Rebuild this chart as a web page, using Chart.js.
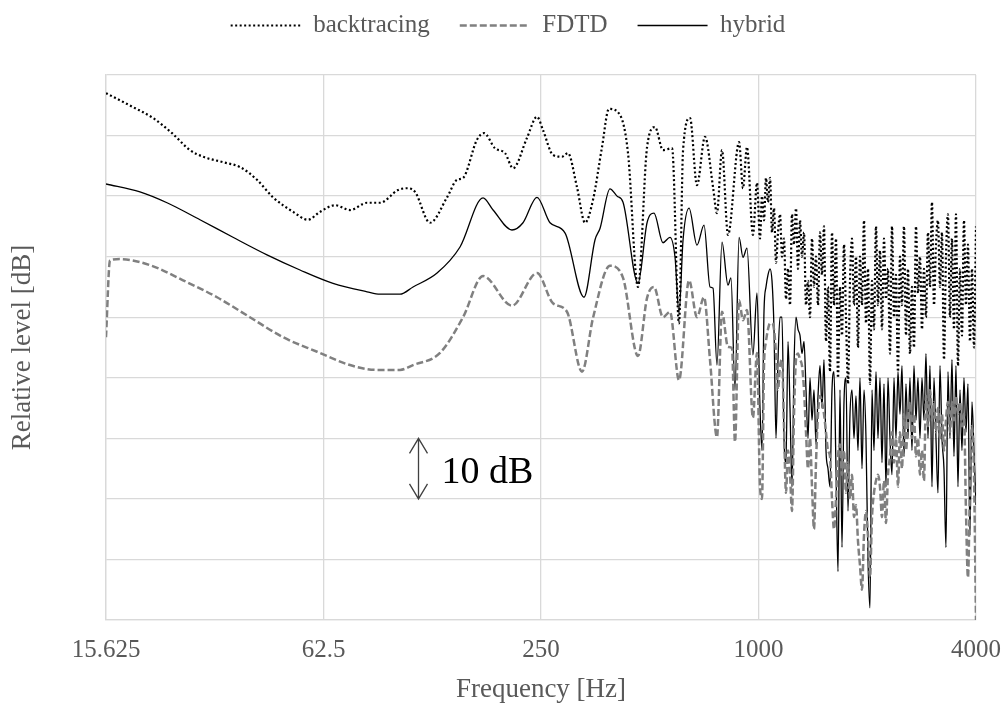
<!DOCTYPE html>
<html>
<head>
<meta charset="utf-8">
<title>Relative level vs frequency</title>
<script src="https://cdn.jsdelivr.net/npm/chart.js@4.4.1/dist/chart.umd.min.js"></script>
<style>
  html, body { margin: 0; padding: 0; background: #fff; }
  #wrap { width: 1008px; height: 709px; }
</style>
</head>
<body>
<div id="wrap"><canvas id="chart" width="1008" height="709"></canvas></div>
<script>
// ticks of the octave axis
const xTickValues = [15.625, 62.5, 250, 1000, 4000];
const xTickLabels = ['15.625', '62.5', '250', '1000', '4000'];

// ---- below ~1 kHz, each curve read at its own turning points ----
// backtracing (dotted)
const backFreq = [15.625, 18.56, 21.08, 23.80, 26.68, 29.0, 32.94, 36.7, 40.9, 45.3, 51.5, 56.6, 61.1, 67.3, 74.0, 82.5, 89.6, 100.5, 106.4, 112.0,
  123.2, 137.4, 146.4, 152.1, 166.2, 173.9, 186.5, 198.8, 209.2, 228.6, 243.7, 253.2, 269.8, 285.7, 296.8, 314.4, 331.0, 348.3, 368.8, 385.5,
  413.6, 435.3, 463.9, 491.5, 517.0, 544.0, 576.5, 602.5, 618.3, 646.3, 675.6, 711.1, 748.4, 767.4, 792.4, 823.2, 883.5, 905.8, 929.2, 965.2,
  990.4];
const backLevel = [87.0, 84.7, 82.9, 80.4, 77.6, 76.5, 75.6, 74.8, 72.7, 69.8, 67.4, 66.1, 67.4, 68.5, 67.7, 68.9, 68.9, 71.0, 71.3, 70.7,
  65.6, 69.8, 72.7, 73.0, 79.3, 80.4, 77.9, 77.1, 74.6, 79.6, 83.1, 80.9, 76.8, 76.5, 77.1, 71.5, 65.6, 69.4, 78.1, 84.4,
  83.4, 77.1, 55.0, 78.1, 81.4, 77.6, 77.9, 49.0, 77.6, 82.9, 71.8, 79.8, 71.5, 67.2, 77.6, 63.6, 78.9, 71.3, 78.1, 63.6,
  72.2];

// FDTD (dashed grey)
const fdtdFreq = [15.625, 16.03, 17.08, 20.68, 25.53, 31.71, 39.1, 48.3, 60.0, 74.0, 87.9, 101.8, 110.6, 131.3, 152.1, 172.8, 207.8, 243.7, 269.8, 295.0,
  324.7, 348.3, 388.0, 421.7, 463.9, 491.5, 513.7, 544.0, 568.8, 602.5, 642.4, 675.6, 706.7, 734.2, 767.4, 792.4, 823.2, 844.6, 860.9, 883.5,
  905.8, 929.2, 965.2, 990.4];
const fdtdLevel = [46.7, 59.4, 59.6, 58.6, 56.1, 53.3, 50.0, 46.7, 44.3, 42.1, 41.3, 41.3, 42.1, 44.1, 50.0, 56.8, 51.9, 57.3, 52.3, 50.9,
  41.0, 49.9, 58.5, 56.5, 43.6, 53.2, 55.0, 50.0, 50.9, 39.6, 56.1, 50.0, 53.3, 42.9, 30.2, 50.9, 45.1, 44.9, 29.4, 52.8,
  49.5, 51.2, 33.4, 44.1];

// hybrid (solid)
const hybFreq = [15.625, 19.4, 23.05, 28.44, 35.1, 43.6, 53.8, 66.4, 82.5, 89.6, 101.8, 110.6, 128.9, 149.2, 172.8, 184.2, 207.8, 222.9, 243.7, 264.8,
  291.5, 328.8, 352.8, 364.3, 388.0, 405.9, 421.7, 463.9, 491.5, 513.7, 544.0, 568.8, 587.4, 602.5, 618.3, 642.4, 675.6, 706.7, 734.2, 748.4,
  767.4, 792.4, 823.2, 839.2, 860.9, 883.5, 905.8, 929.2, 965.2, 990.4];
const hybLevel = [72.0, 70.7, 68.9, 66.1, 63.2, 60.3, 57.8, 55.6, 54.2, 53.8, 53.8, 55.0, 57.3, 61.6, 69.7, 67.7, 64.4, 65.6, 69.8, 65.6,
  63.9, 53.3, 62.8, 64.7, 71.2, 70.0, 69.0, 55.6, 65.6, 67.2, 62.3, 63.2, 59.9, 50.7, 62.8, 68.0, 61.9, 65.2, 55.0, 54.8,
  42.1, 62.4, 55.3, 56.5, 38.0, 63.2, 59.9, 61.4, 43.8, 54.0];

// ---- above 1 kHz the curves are read on one shared frequency list ----
const hfFreq = [1009.6, 1022.6, 1035.7, 1049.0, 1062.4, 1076.1, 1089.9, 1103.9, 1118.0, 1132.4,
  1146.9, 1161.6, 1176.5, 1191.6, 1206.9, 1222.4, 1238.1, 1254.0, 1270.0, 1286.3,
  1302.8, 1319.5, 1336.5, 1353.6, 1371.0, 1388.6, 1406.4, 1424.4, 1442.7, 1461.2,
  1479.9, 1498.9, 1518.1, 1537.6, 1557.3, 1577.3, 1597.5, 1618.0, 1638.8, 1659.8,
  1681.1, 1702.6, 1724.5, 1746.6, 1769.0, 1791.7, 1814.7, 1838.0, 1861.5, 1885.4,
  1909.6, 1934.1, 1958.9, 1984.0, 2009.5, 2035.3, 2061.4, 2087.8, 2114.6, 2141.7,
  2169.2, 2197.0, 2225.2, 2253.7, 2282.6, 2311.9, 2341.6, 2371.6, 2402.0, 2432.8,
  2464.0, 2495.6, 2527.6, 2560.0, 2592.9, 2626.1, 2659.8, 2693.9, 2728.5, 2763.5,
  2798.9, 2834.8, 2871.2, 2908.0, 2945.3, 2983.1, 3021.3, 3060.1, 3099.3, 3139.1,
  3179.3, 3220.1, 3261.4, 3303.2, 3345.6, 3388.5, 3432.0, 3476.0, 3520.6, 3565.7,
  3611.5, 3657.8, 3704.7, 3752.2, 3800.4, 3849.1, 3898.5, 3948.5, 4000];
const backHigh = [63, 70, 66, 73, 69, 73, 64, 68, 59, 64,
  67, 60, 63, 53, 58, 52, 67, 62, 68, 58,
  66, 60, 64, 52, 56, 50, 63, 55, 60, 52,
  64, 57, 65, 46, 55, 41, 64, 52, 63, 40,
  55, 47, 62, 50, 39, 56, 63, 52, 60, 45,
  60, 52, 66, 49, 58, 39, 56, 48, 65, 52,
  61, 48, 63, 53, 58, 44, 65, 50, 57, 41,
  60, 52, 65, 47, 58, 44, 55, 45, 65, 54,
  60, 48, 58, 50, 64, 55, 69, 52, 62, 66,
  55, 64, 43, 60, 67, 50, 63, 48, 67, 42,
  58, 47, 66, 52, 62, 46, 58, 45, 65];
const fdtdHigh = [22, 20, 42, 46, 48, 49, 49, 48, 44, 38,
  42, 43, 32, 21, 28, 24, 18, 34, 43, 44,
  43, 42, 38, 31, 25, 30, 22, 15, 26, 34,
  37, 36, 34, 31, 28, 27, 20, 15, 20, 27,
  29, 24, 28, 21, 26, 20, 24, 17, 19, 13,
  9, 5, 14, 18, 14, 7, 17, 21, 23, 24,
  22, 17, 23, 16, 24, 27, 31, 26, 30, 22,
  31, 25, 34, 28, 33, 36, 30, 34, 27, 30,
  24, 28, 23, 37, 32, 38, 33, 36, 31, 35,
  30, 34, 28, 33, 36, 31, 36, 33, 37, 34,
  36, 32, 34, 18, 7, 22, 32, 24, 0];
const hybHigh = [35, 28, 51, 55, 57, 58, 56, 48, 30, 43,
  50, 50, 30, 26, 46, 35, 22, 42, 50, 48,
  47, 44, 46, 38, 30, 40, 33, 38, 29, 37,
  42, 35, 43, 28, 25, 22, 38, 41, 25, 8,
  38, 12, 36, 40, 18, 34, 38, 30, 37, 28,
  40, 25, 38, 30, 10, 2, 38, 28, 41, 30,
  40, 26, 39, 22, 40, 30, 24, 40, 30, 41,
  34, 42, 27, 39, 30, 40, 28, 42, 33, 40,
  30, 40, 33, 44, 30, 42, 22, 40, 30, 21,
  42, 30, 25, 12, 41, 30, 43, 27, 42, 22,
  38, 28, 40, 31, 39, 14, 36, 28, 19];

// the "10 dB" scale mark
const noteFreq = 114.2;
const noteTop = 30;
const noteBottom = 20;

const SERIF = '"Liberation Serif", "Times New Roman", serif';
const GREY_TEXT = '#595959';
const GRID = '#d9d9d9';

const toPoints = (fs, ls) => fs.map((f, i) => ({ x: f, y: ls[i] }));

// legend gets a fixed height so the plot starts at the right place,
// and is nudged right like the original
const legendBox = {
  id: 'legendBox',
  beforeLayout(chart) {
    const lg = chart.legend;
    if (lg && !lg._patched) {
      const fit = lg.fit;
      lg.fit = function() { fit.call(this); this.height = 92; };
      lg._patched = true;
    }
  },
  afterLayout(chart) {
    chart.legend.left += 20;
    chart.legend.right += 20;
  }
};

// double arrow + "10 dB"
const scaleNote = {
  id: 'scaleNote',
  afterDatasetsDraw(chart) {
    const { ctx, scales: { x, y } } = chart;
    const px = Math.round(x.getPixelForValue(noteFreq)) + 0.5;
    const top = y.getPixelForValue(noteTop);
    const bot = y.getPixelForValue(noteBottom);
    ctx.save();
    ctx.strokeStyle = '#404040';
    ctx.lineWidth = 1.3;
    ctx.beginPath();
    ctx.moveTo(px, top); ctx.lineTo(px, bot);
    ctx.moveTo(px - 9, top + 15); ctx.lineTo(px, top); ctx.lineTo(px + 9, top + 15);
    ctx.moveTo(px - 9, bot - 15); ctx.lineTo(px, bot); ctx.lineTo(px + 9, bot - 15);
    ctx.stroke();
    ctx.fillStyle = '#000';
    ctx.font = '38px ' + SERIF;
    ctx.textBaseline = 'alphabetic';
    ctx.fillText('10 dB', px + 23, bot - 16);
    ctx.restore();
  }
};

new Chart(document.getElementById('chart'), {
  type: 'line',
  data: {
    datasets: [
      {
        label: 'backtracing',
        data: toPoints(backFreq.concat(hfFreq), backLevel.concat(backHigh)),
        borderColor: '#000',
        borderWidth: 2.2,
        borderDash: [2, 2.5],
        pointRadius: 0
      },
      {
        label: 'FDTD',
        data: toPoints(fdtdFreq.concat(hfFreq), fdtdLevel.concat(fdtdHigh)),
        borderColor: '#808080',
        borderWidth: 2.5,
        borderDash: [7, 3],
        pointRadius: 0
      },
      {
        label: 'hybrid',
        data: toPoints(hybFreq.concat(hfFreq), hybLevel.concat(hybHigh)),
        borderColor: '#000',
        borderWidth: 1.3,
        pointRadius: 0
      }
    ]
  },
  options: {
    responsive: false,
    animation: false,
    cubicInterpolationMode: 'monotone',
    layout: { padding: { left: 0, right: 32, top: -17, bottom: 0 } },
    plugins: {
      legend: {
        position: 'top',
        labels: {
          usePointStyle: true,
          pointStyleWidth: 70,
          padding: 30,
          color: GREY_TEXT,
          font: { family: SERIF, size: 25 },
          generateLabels(chart) {
            const items = Chart.defaults.plugins.legend.labels.generateLabels(chart);
            items.forEach((it) => {
              const ds = chart.data.datasets[it.datasetIndex];
              it.pointStyle = 'line';
              it.strokeStyle = ds.borderColor;
              it.lineWidth = ds.borderWidth;
              it.lineDash = ds.borderDash || [];
            });
            return items;
          }
        }
      },
      tooltip: { enabled: false }
    },
    scales: {
      x: {
        type: 'logarithmic',
        min: 15.625,
        max: 4000,
        afterBuildTicks: (axis) => { axis.ticks = xTickValues.map(v => ({ value: v })); },
        afterFit: (axis) => {
          axis.height = 89;
          axis.paddingLeft = 0;
          axis.paddingRight = 0;
        },
        ticks: {
          autoSkip: false,
          maxRotation: 0,
          padding: 15,
          color: GREY_TEXT,
          font: { family: SERIF, size: 25 },
          callback: (value, index) => xTickLabels[index]
        },
        grid: { color: GRID, lineWidth: 1.3, drawTicks: false },
        border: { color: GRID, width: 1.3 },
        title: {
          display: true,
          text: 'Frequency [Hz]',
          color: GREY_TEXT,
          font: { family: SERIF, size: 27, lineHeight: 1 },
          padding: { top: 6, bottom: 6 }
        }
      },
      y: {
        min: 0,
        max: 90,
        ticks: { stepSize: 10, display: false },
        afterFit: (axis) => { axis.width = 106; },
        grid: { color: GRID, lineWidth: 1.3, drawTicks: false },
        border: { color: GRID, width: 1.3 },
        title: {
          display: true,
          text: 'Relative level [dB]',
          color: GREY_TEXT,
          font: { family: SERIF, size: 27, lineHeight: 1 },
          padding: { top: 9, bottom: 9 }
        }
      }
    }
  },
  plugins: [legendBox, scaleNote]
});
</script>
</body>
</html>
